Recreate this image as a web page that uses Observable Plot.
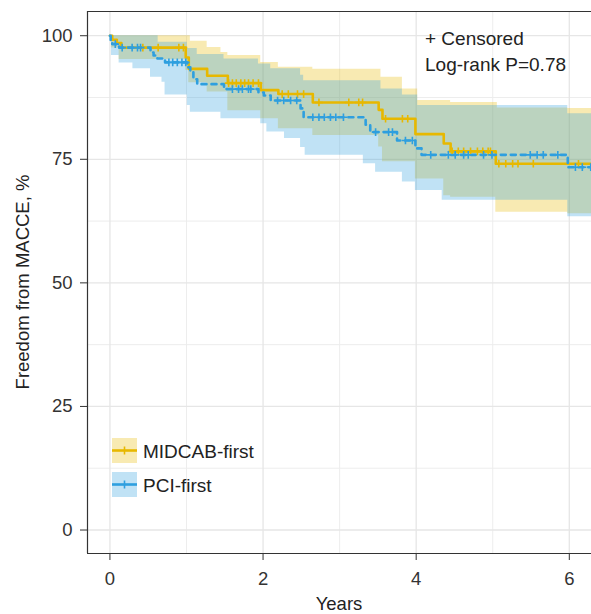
<!DOCTYPE html>
<html><head><meta charset="utf-8">
<script src="https://cdn.jsdelivr.net/npm/d3@7"></script>
<script src="https://cdn.jsdelivr.net/npm/@observablehq/plot@0.6"></script>
<style>
body{margin:0;background:#fff;}
#chart{position:relative;width:591px;height:614px;}
svg text{font-family:"Liberation Sans",Arial,Helvetica,sans-serif;}
</style>
</head><body><div id="chart"></div>
<script>
// ---- data ----
const groups = ["MIDCAB-first", "PCI-first"];
const colors = ["#E7B800", "#2E9FDF"];
const endTime = 6.35;

const midTime = [0, 0.03, 0.09, 0.15, 0.99, 1.03, 1.27, 1.54, 1.97, 2.2, 2.65, 3.51, 3.56, 3.99, 4.36, 4.45, 5.04];
const midSurv = [100, 99.2, 98.5, 97.6, 95.6, 93.3, 91.9, 90.4, 89.0, 88.2, 86.5, 85.0, 83.2, 80.1, 78.2, 76.6, 74.1];
const midCensorTime = [0.43, 0.63, 0.90, 0.96, 1.55, 1.60, 1.65, 1.71, 1.76, 1.81, 1.87, 1.94, 2.25, 2.33, 2.45, 2.53, 2.73, 3.12, 3.25, 3.30, 3.60, 3.82, 3.89, 4.47, 4.55, 4.62, 4.71, 4.80, 4.87, 4.94, 4.97, 5.08, 5.17, 5.26, 5.33, 5.53, 6.12];
const midCensorSurv = [97.6, 97.6, 97.6, 97.6, 90.4, 90.4, 90.4, 90.4, 90.4, 90.4, 90.4, 90.4, 88.2, 88.2, 88.2, 88.2, 86.5, 86.5, 86.5, 86.5, 83.2, 83.2, 83.2, 76.6, 76.6, 76.6, 76.6, 76.6, 76.6, 76.6, 76.6, 74.1, 74.1, 74.1, 74.1, 74.1, 74.1];
const midBandTime = [0, 0.02, 0.12, 0.99, 1.03, 1.05, 1.27, 1.45, 1.54, 1.97, 2.2, 2.65, 3.51, 3.54, 3.56, 3.82, 3.99, 4.02, 4.36, 4.45, 5.04, 5.06, 5.98];
const midLower =    [100, 97.5, 95.2, 93, 90.5, 90.5, 88.6, 88.6, 84.8, 83.2, 81.2, 79.8, 77.5, 77.5, 74.5, 74.5, 71.0, 71.0, 67.6, 67.3, 64.3, 64.3, 64];
const midUpper =    [100, 100, 100, 100, 100, 98.9, 97.6, 96.6, 96, 94.6, 93.6, 93.2, 93.2, 91.6, 91.6, 89.2, 89.2, 86.9, 86.9, 86.5, 86.5, 85.4, 85.3];

const pciTime = [0, 0.01, 0.03, 0.12, 0.53, 0.57, 0.62, 0.72, 1.01, 1.05, 1.09, 1.14, 1.49, 1.94, 2.01, 2.10, 2.49, 2.53, 3.34, 3.40, 3.75, 3.99, 4.07, 5.98];
const pciSurv = [100, 99, 98.3, 97.6, 96.6, 96.0, 95.4, 94.6, 93.6, 92.6, 91.2, 90.2, 89.2, 88.5, 87.9, 86.9, 85.3, 83.5, 82.0, 80.5, 78.8, 77.2, 75.9, 73.4];
const pciCensorTime = [0.07, 0.16, 0.29, 0.36, 0.40, 0.77, 0.82, 0.88, 0.94, 0.99, 1.60, 1.68, 1.73, 1.81, 1.84, 2.19, 2.27, 2.36, 2.44, 2.65, 2.73, 2.80, 2.88, 2.95, 3.05, 3.47, 3.64, 3.69, 3.86, 3.95, 4.19, 4.42, 4.51, 4.62, 4.68, 4.88, 4.99, 5.49, 5.58, 5.66, 5.85, 6.08, 6.17, 6.28];
const pciCensorSurv = [98.3, 97.6, 97.6, 97.6, 97.6, 94.6, 94.6, 94.6, 94.6, 94.6, 89.2, 89.2, 89.2, 89.2, 89.2, 86.9, 86.9, 86.9, 86.9, 83.5, 83.5, 83.5, 83.5, 83.5, 83.5, 80.5, 80.5, 80.5, 78.8, 78.8, 75.9, 75.9, 75.9, 75.9, 75.9, 75.9, 75.9, 75.9, 75.9, 75.9, 75.9, 73.4, 73.4, 73.4];
const pciBandTime = [0, 0.02, 0.12, 0.3, 0.53, 0.63, 0.68, 0.72, 1.01, 1.05, 1.14, 1.45, 1.49, 1.94, 1.97, 2.05, 2.1, 2.28, 2.49, 2.53, 2.55, 3.31, 3.47, 3.54, 3.82, 3.99, 4.02, 4.34, 5.98];
const pciLower =    [100, 96, 94.5, 93.3, 91.6, 91.6, 90.6, 88, 85.9, 84.5, 84.5, 83.2, 83.2, 83.2, 82.2, 80.5, 80.5, 79.2, 77.4, 77.4, 75.8, 74.1, 72.4, 72.4, 70.4, 68.7, 68.7, 66.7, 63.4];
const pciUpper =    [100, 100, 100, 100, 100, 98.7, 98.7, 98.7, 97.4, 97.4, 96.2, 96.2, 95.3, 94.3, 94.3, 94.3, 93.3, 93.3, 92, 90.9, 90.9, 90.9, 90.9, 89.2, 88, 88, 85.9, 85.9, 84.2];

const xTicks = [0, 2, 4, 6];
const xMinor = [1, 3, 5];
const yTicks = [0, 25, 50, 75, 100];
const yMinor = [12.5, 37.5, 62.5, 87.5];
const xDomain = [-0.293, 6.29];
const yDomain = [-4.75, 104.9];
const annotations = ["+ Censored", "Log-rank P=0.78"];
const xTitle = "Years";
const yTitle = "Freedom from MACCE, %";

// ---- build tables ----
function curve(times, surv, g) {
  const rows = times.map((t, i) => ({t, s: surv[i], g}));
  rows.push({t: endTime, s: surv[surv.length - 1], g});
  return rows;
}
function band(times, lo, hi, g) {
  const rows = times.map((t, i) => ({t, lo: lo[i], hi: hi[i], g}));
  rows.push({t: endTime, lo: lo[lo.length - 1], hi: hi[hi.length - 1], g});
  return rows;
}
const midLine = curve(midTime, midSurv, groups[0]);
const pciLine = curve(pciTime, pciSurv, groups[1]);
const midBand = band(midBandTime, midLower, midUpper, groups[0]);
const pciBand = band(pciBandTime, pciLower, pciUpper, groups[1]);
const midCens = midCensorTime.map((t, i) => ({t, s: midCensorSurv[i]}));
const pciCens = pciCensorTime.map((t, i) => ({t, s: pciCensorSurv[i]}));

const FONT = 18.5;
const chart = Plot.plot({
  width: 591, height: 614,
  marginLeft: 87, marginRight: 0, marginTop: 11, marginBottom: 61,
  style: {fontFamily: '"Liberation Sans", Arial, sans-serif', fontSize: FONT + "px", color: "#333", background: "#fff"},
  x: {domain: xDomain},
  y: {domain: yDomain},
  marks: [
    Plot.gridX(xMinor, {stroke: "#EDEDED", strokeOpacity: 1, strokeWidth: 1}),
    Plot.gridY(yMinor, {stroke: "#EDEDED", strokeOpacity: 1, strokeWidth: 1}),
    Plot.gridX(xTicks, {stroke: "#E6E6E6", strokeOpacity: 1, strokeWidth: 1.3}),
    Plot.gridY(yTicks, {stroke: "#E6E6E6", strokeOpacity: 1, strokeWidth: 1.3}),
    Plot.areaY(midBand, {x: "t", y1: "lo", y2: "hi", curve: "step-after", fill: colors[0], fillOpacity: 0.3, clip: true}),
    Plot.areaY(pciBand, {x: "t", y1: "lo", y2: "hi", curve: "step-after", fill: colors[1], fillOpacity: 0.3, clip: true}),
    Plot.line(midLine, {x: "t", y: "s", curve: "step-after", stroke: colors[0], strokeWidth: 2.6, clip: true}),
    Plot.line(pciLine, {x: "t", y: "s", curve: "step-after", stroke: colors[1], strokeWidth: 2.6, strokeDasharray: "5,5", clip: true}),
    Plot.dot(midCens, {x: "t", y: "s", symbol: "plus", r: 2.6, stroke: colors[0], strokeWidth: 1.6, clip: true}),
    Plot.dot(pciCens, {x: "t", y: "s", symbol: "plus", r: 2.6, stroke: colors[1], strokeWidth: 1.6, clip: true}),
    Plot.axisX(xTicks, {tickSize: 7, tickPadding: 11, label: null, stroke: "#333", fill: "#333", fontSize: FONT}),
    Plot.axisY(yTicks, {tickSize: 7, tickPadding: 8, label: null, stroke: "#333", fill: "#333", fontSize: FONT}),
    Plot.ruleX([xDomain[0]], {stroke: "#333", strokeWidth: 1.2}),
    Plot.ruleY([yDomain[0], yDomain[1]], {stroke: "#333", strokeWidth: 1.2})
  ]
});
document.getElementById("chart").appendChild(chart);

// ---- titles, annotation and legend ----
const svg = d3.select(chart);
const sx = chart.scale("x"), sy = chart.scale("y");
const left = sx.range[0], right = sx.range[1];
svg.append("text").attr("x", (left + right) / 2).attr("y", 610).attr("text-anchor", "middle")
  .attr("font-size", FONT).attr("fill", "#222").text(xTitle);
svg.append("text").attr("transform", `translate(29,${(sy.range[0] + sy.range[1]) / 2}) rotate(-90)`)
  .attr("text-anchor", "middle").attr("font-size", FONT).attr("fill", "#222").text(yTitle);
annotations.forEach((a, i) => {
  svg.append("text").attr("x", 425).attr("y", 45 + i * 25.5).attr("text-anchor", "start")
    .attr("font-size", FONT + 0.5).attr("fill", "#222").text(a);
});
groups.forEach((g, i) => {
  const y0 = 438 + i * 34;
  const gr = svg.append("g");
  gr.append("rect").attr("x", 112).attr("y", y0).attr("width", 25).attr("height", 25)
    .attr("fill", colors[i]).attr("fill-opacity", 0.3);
  gr.append("line").attr("x1", 112).attr("x2", 137).attr("y1", y0 + 12.5).attr("y2", y0 + 12.5)
    .attr("stroke", colors[i]).attr("stroke-width", 2.6);
  gr.append("line").attr("x1", 124.5).attr("x2", 124.5).attr("y1", y0 + 8.5).attr("y2", y0 + 16.5)
    .attr("stroke", colors[i]).attr("stroke-width", 1.6);
  gr.append("text").attr("x", 143).attr("y", y0 + 19.5).attr("text-anchor", "start")
    .attr("font-size", FONT + 0.5).attr("fill", "#222").text(g);
});
</script>
</body></html>
